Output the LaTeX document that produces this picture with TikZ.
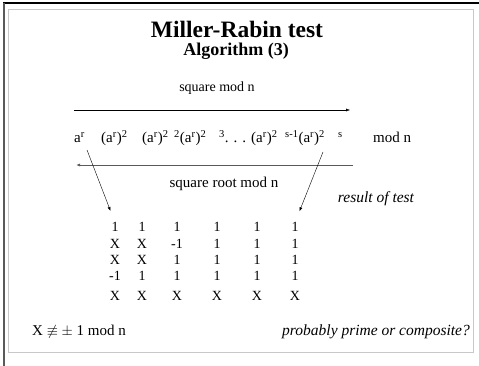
\documentclass[tikz,border=0pt]{standalone}
\usepackage{fontspec}
\setmainfont{Liberation Serif}
\usepackage{amsmath, amssymb}
\usepackage{tikz}
\usetikzlibrary{arrows.meta,positioning,calc}
\definecolor{framegray}{RGB}{200,200,200}
\definecolor{edgegray}{RGB}{90,90,90}
\tikzset{
  titletxt/.style={font=\fontsize{23.5}{26}\selectfont\bfseries, inner sep=0pt, anchor=base},
  subtxt/.style={font=\fontsize{18}{20}\selectfont\bfseries, inner sep=0pt, anchor=base},
  body/.style={font=\fontsize{15}{17}\selectfont, inner sep=0pt, anchor=base},
  term/.style={font=\fontsize{15}{17}\selectfont, inner sep=0pt, anchor=base west},
  note/.style={font=\fontsize{15.5}{17}\selectfont\itshape, inner sep=0pt, anchor=base},
  cell/.style={font=\fontsize{14}{16}\selectfont, inner sep=0pt, anchor=base},
  oparrow/.style={-{Latex[length=4pt,width=3pt]}, thin},
  backarrow/.style={-{Latex[length=4pt,width=3pt]}, line width=0.9pt, edgegray},
}

\begin{document}
\begin{tikzpicture}[x=1pt,y=-1pt]
  \useasboundingbox (0,0) rectangle (479,366);
  % Slide frame
  \draw[black, line width=1.2pt] (3,3) -- (479,3);
  \draw[edgegray, line width=2pt] (4,3) -- (4,366);
  \draw[framegray, line width=1pt] (8,10) rectangle (473,352);
  % Titles
  \node[titletxt] (title) at (237,38) {Miller-Rabin test};
  \node[subtxt] (subtitle) at (236,56) {Algorithm (3)};
  % Squaring arrow
  \node[body, font=\fontsize{14}{16}\selectfont] (sq) at (217,92) {square mod n};
  \coordinate (sqL) at (74,110);
  \coordinate (sqR) at (350,110);
  \draw[oparrow] (sqL) -- (sqR);
  % Sequence of terms
  \node[term] (t0) at (74,143) {a\textsuperscript{r}};
  \node[term] (t1) at (101,143) {(a\textsuperscript{r})\textsuperscript{2}};
  \node[term] (t2) at (142,143) {(a\textsuperscript{r})\textsuperscript{2}};
  \node[term] (t3) at (174,143) {\textsuperscript{2}(a\textsuperscript{r})\textsuperscript{2}};
  \node[term] (t4) at (219,143) {\textsuperscript{3}. . . (a\textsuperscript{r})\textsuperscript{2}};
  \node[term] (t5) at (285,143) {\textsuperscript{s-1}(a\textsuperscript{r})\textsuperscript{2}};
  \node[term] (t6) at (338,143) {\textsuperscript{s}};
  \node[term] (modn) at (373,143) {mod n};
  % Square root arrow
  \coordinate (rtR) at (353,165);
  \coordinate (rtL) at (76,165);
  \draw[backarrow] (rtR) -- (rtL);
  \node[body] (sqrt) at (224,188) {square root mod n};
  \node[note] (result) at (376,203) {result of test};
  % Table of values
  \foreach \row/\y/\vals in {
      1/232/{1,1,1,1,1,1},
      2/248/{X,X,-1,1,1,1},
      3/264/{X,X,1,1,1,1},
      4/280/{-1,1,1,1,1,1},
      5/300/{X,X,X,X,X,X}}{
    \foreach \v [count=\col] in \vals{
      \pgfmathsetmacro{\xx}{{115,142,177,217,257,295}[\col-1]}
      \node[cell] (c-\row-\col) at (\xx,\y) {\v};
    }
  }
  % Arrows into the table
  \coordinate (la) at (87,150);
  \coordinate (ra) at (323,152);
  \draw[oparrow] (la) -- ($(c-1-1.north)!0.16!(la)$);
  \draw[oparrow] (ra) -- ($(c-1-6.north)!0.16!(ra)$);
  % Footer
  \node[body, anchor=base west] (legend) at (32,335) {X $\not\equiv$ $\pm$ 1 mod n};
  \node[note, anchor=base east] (verdict) at (470,335) {probably prime or composite?};
\end{tikzpicture}
\end{document}
